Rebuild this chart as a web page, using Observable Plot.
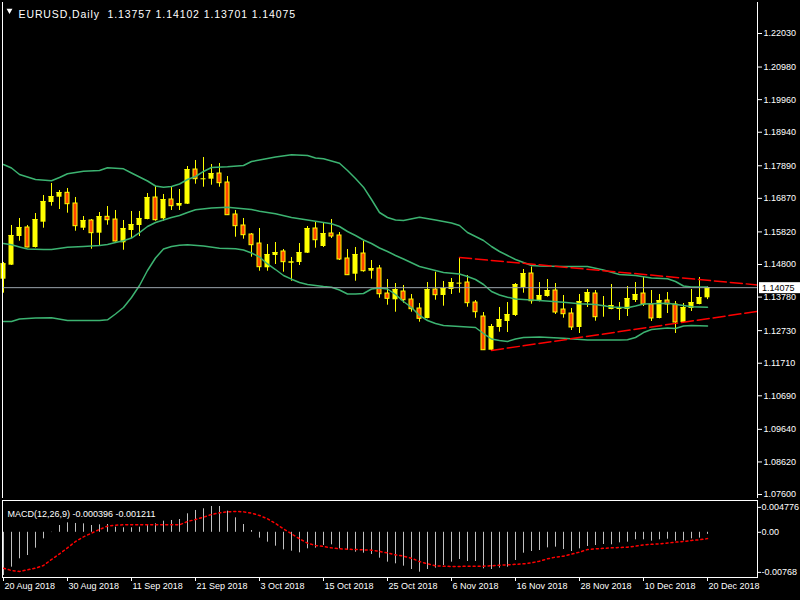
<!DOCTYPE html>
<html><head><meta charset="utf-8">
<script src="https://cdn.jsdelivr.net/npm/d3@7"></script>
<script src="https://cdn.jsdelivr.net/npm/@observablehq/plot@0.6"></script>
<style>
html,body{margin:0;padding:0;background:#000;}
#chart{position:relative;width:800px;height:600px;background:#000;overflow:hidden;}
#chart svg{position:absolute;left:0;display:block;max-width:none;}
</style></head><body><div id="chart"></div>
<script>
// ---- Daily EURUSD candles (bar index 0 = 20 Aug 2018) ----
const openP = [1.14340,1.14778,1.15676,1.15958,1.15332,1.16124,1.16740,1.16906,1.17044,1.16709,
1.15936,1.16177,1.15780,1.16293,1.16208,1.15479,1.15864,1.16021,1.16208,1.16897,
1.16230,1.16834,1.16625,1.16687,1.17773,1.17480,1.17470,1.17648,1.17366,1.16365,
1.16021,1.15739,1.15457,1.14697,1.15082,1.15207,1.14847,1.14862,1.15154,1.15927,
1.15363,1.15770,1.15708,1.14988,1.14496,1.15144,1.14590,1.14675,1.13892,1.13695,
1.13955,1.13704,1.13423,1.13110,1.14017,1.13830,1.14017,1.14212,1.14236,1.13610,
1.13172,1.12117,1.12828,1.13016,1.13204,1.14080,1.14518,1.13642,1.13798,1.13986,
1.13391,1.13266,1.12828,1.13610,1.13892,1.13515,1.13391,1.13391,1.13391,1.13673,
1.13892,1.13548,1.13110,1.13673,1.13548,1.12984,1.13423,1.13548,1.13757];
const highP = [1.14862,1.16021,1.16240,1.16021,1.16396,1.16960,1.17335,1.17116,1.17179,1.16897,
1.16302,1.16208,1.16427,1.16615,1.16490,1.16177,1.16459,1.16459,1.17022,1.17241,
1.16991,1.17241,1.17147,1.17867,1.18055,1.18149,1.17930,1.17961,1.17554,1.16490,
1.16240,1.15770,1.15927,1.15426,1.15488,1.15269,1.15019,1.15457,1.15989,1.16114,
1.16083,1.16208,1.15801,1.15269,1.15332,1.15520,1.14925,1.14769,1.14330,1.14205,
1.14143,1.13861,1.13579,1.14236,1.14559,1.14268,1.14362,1.15019,1.14456,1.13673,
1.13297,1.12922,1.13454,1.13610,1.14205,1.14643,1.14722,1.14236,1.14330,1.14205,
1.13830,1.13423,1.13861,1.14017,1.13986,1.13798,1.14174,1.13610,1.14111,1.14236,
1.14424,1.13986,1.13861,1.13923,1.13642,1.13579,1.14017,1.14393,1.14102];
const lowP = [1.13902,1.14770,1.15529,1.15325,1.15316,1.15936,1.16625,1.16521,1.16406,1.15842,
1.15864,1.15279,1.15395,1.16030,1.15504,1.15247,1.15614,1.15676,1.16199,1.16155,
1.16155,1.16490,1.16490,1.16678,1.17313,1.17219,1.17282,1.17219,1.16333,1.15654,
1.15592,1.15028,1.14590,1.14590,1.14800,1.14559,1.14277,1.14769,1.15144,1.15310,
1.15332,1.15614,1.14925,1.14455,1.14277,1.14559,1.14340,1.13745,1.13526,1.13307,
1.13589,1.13307,1.12994,1.13100,1.13682,1.13495,1.13861,1.13902,1.13463,1.13119,
1.12110,1.12110,1.12681,1.12671,1.13172,1.13902,1.13557,1.13632,1.13777,1.13235,
1.13119,1.12734,1.12640,1.13454,1.13025,1.13150,1.13382,1.13047,1.13172,1.13610,
1.13485,1.13016,1.13100,1.13266,1.12640,1.12975,1.13329,1.13539,1.13701];
const closeP = [1.14822,1.15708,1.15958,1.15332,1.16208,1.16772,1.16928,1.17053,1.16687,1.15999,
1.16177,1.15780,1.16302,1.16186,1.15520,1.15927,1.16052,1.16240,1.16897,1.16186,
1.16834,1.16625,1.16709,1.17773,1.17470,1.17482,1.17648,1.17345,1.16343,1.15999,
1.15717,1.15404,1.14715,1.15113,1.15175,1.14872,1.14878,1.15175,1.15927,1.15560,
1.15770,1.15676,1.14956,1.14465,1.15113,1.14590,1.14675,1.13870,1.13726,1.14017,
1.13682,1.13401,1.13100,1.14017,1.13839,1.14049,1.14236,1.14215,1.13589,1.13307,
1.12117,1.12859,1.13078,1.13235,1.14174,1.14518,1.13651,1.13830,1.13986,1.13297,
1.13244,1.12828,1.13642,1.13923,1.13150,1.13517,1.13517,1.13454,1.13736,1.13861,
1.13548,1.13110,1.13673,1.13548,1.12984,1.13454,1.13610,1.13767,1.14075];

// ---- Bollinger Bands (20,2) read at bars: [bar index, price] ----
const upperBand = [[0,1.17930],[1,1.17820],[2,1.17617],[4,1.17460],[6,1.17420],[7,1.17523],[8,1.17639],[10,1.17720],[12,1.17742],[13,1.17827],[15,1.17795],[16,1.17664],[17,1.17539],[18,1.17413],[19,1.17257],[20,1.17219],[21,1.17241],[22,1.17319],[23,1.17460],[24,1.17554],[25,1.17711],[26,1.17836],[28,1.17858],[30,1.17899],[31,1.18024],[32,1.18071],[34,1.18165],[36,1.18233],[38,1.18211],[39,1.18133],[40,1.18108],[42,1.17970],[43,1.17742],[44,1.17492],[45,1.17219],[46,1.16834],[47,1.16427],[48,1.16271],[49,1.16193],[50,1.16177],[52,1.16280],[54,1.16193],[56,1.16099],[57,1.16021],[58,1.15802],[59,1.15676],[60,1.15551],[61,1.15363],[62,1.15207],[63,1.15082],[64,1.14956],[65,1.14862],[66,1.14768],[67,1.14753],[70,1.14737],[73,1.14737],[75,1.14628],[77,1.14487],[79,1.14456],[81,1.14377],[83,1.14352],[84,1.14268],[85,1.14127],[86,1.14096],[88,1.14096]];
const middleBand = [[0,1.15457],[1,1.15416],[2,1.15348],[3,1.15285],[5,1.15269],[6,1.15269],[8,1.15341],[10,1.15363],[12,1.15394],[13,1.15426],[14,1.15488],[15,1.15542],[16,1.15629],[17,1.15800],[18,1.15989],[19,1.16114],[20,1.16193],[21,1.16271],[22,1.16334],[23,1.16427],[24,1.16512],[26,1.16565],[28,1.16593],[30,1.16543],[31,1.16521],[32,1.16468],[34,1.16387],[36,1.16271],[38,1.16193],[40,1.16114],[41,1.16074],[42,1.15989],[43,1.15833],[44,1.15708],[45,1.15567],[46,1.15457],[47,1.15316],[48,1.15207],[49,1.15082],[50,1.14972],[52,1.14737],[54,1.14612],[55,1.14549],[57,1.14503],[58,1.14424],[59,1.14330],[60,1.14174],[61,1.13955],[62,1.13845],[63,1.13776],[64,1.13720],[65,1.13704],[67,1.13673],[70,1.13620],[72,1.13570],[74,1.13548],[76,1.13470],[78,1.13445],[79,1.13501],[80,1.13564],[83,1.13589],[85,1.13517],[86,1.13476],[88,1.13463]];
const lowerBand = [[0,1.13016],[1,1.13016],[2,1.13094],[4,1.13125],[6,1.13131],[8,1.13047],[12,1.13047],[13,1.13069],[14,1.13251],[15,1.13454],[16,1.13767],[17,1.14143],[18,1.14612],[19,1.15003],[20,1.15285],[21,1.15363],[22,1.15404],[23,1.15416],[25,1.15379],[27,1.15310],[29,1.15291],[30,1.15254],[31,1.15160],[32,1.15035],[33,1.14816],[34,1.14643],[35,1.14456],[36,1.14340],[37,1.14236],[38,1.14174],[40,1.14111],[41,1.14089],[42,1.14002],[43,1.13877],[44,1.13877],[45,1.13892],[46,1.14033],[47,1.14065],[48,1.14033],[49,1.13861],[50,1.13642],[51,1.13454],[52,1.13204],[53,1.13047],[54,1.12953],[55,1.12891],[57,1.12859],[59,1.12828],[60,1.12640],[61,1.12468],[62,1.12421],[63,1.12390],[64,1.12468],[65,1.12515],[67,1.12531],[70,1.12490],[73,1.12437],[77,1.12437],[78,1.12443],[79,1.12515],[80,1.12671],[81,1.12765],[83,1.12812],[84,1.12797],[85,1.12875],[86,1.12891],[88,1.12875]];

// ---- Trendlines (two anchors each, drawn as rays to the right) ----
const upperTrend = [[57,1.15019],[88,1.14305]];
const lowerTrend = [[61,1.12110],[88,1.13103]];

// ---- MACD(12,26,9) ----
const macdMain = [-0.00828,-0.00668,-0.00508,-0.00445,-0.00304,-0.00125,-0.00005,0.00130,0.00181,0.00169,
0.00162,0.00130,0.00143,0.00149,0.00098,0.00086,0.00086,0.00098,0.00149,0.00162,
0.00213,0.00226,0.00245,0.00354,0.00418,0.00450,0.00494,0.00494,0.00405,0.00277,
0.00149,0.00034,-0.00112,-0.00189,-0.00266,-0.00336,-0.00362,-0.00393,-0.00317,-0.00304,
-0.00253,-0.00240,-0.00317,-0.00349,-0.00381,-0.00400,-0.00425,-0.00496,-0.00572,-0.00604,
-0.00649,-0.00713,-0.00764,-0.00713,-0.00687,-0.00636,-0.00572,-0.00521,-0.00560,-0.00560,
-0.00700,-0.00713,-0.00687,-0.00668,-0.00540,-0.00400,-0.00368,-0.00349,-0.00298,-0.00285,
-0.00330,-0.00368,-0.00317,-0.00272,-0.00253,-0.00234,-0.00240,-0.00202,-0.00189,-0.00144,
-0.00144,-0.00170,-0.00144,-0.00132,-0.00170,-0.00164,-0.00125,-0.00112,-0.000396];
const macdSignal = [[0,-0.00687],[1,-0.00732],[2,-0.00751],[3,-0.00719],[4,-0.00687],[5,-0.00636],[6,-0.00521],[7,-0.00413],[8,-0.00298],[9,-0.00176],[10,-0.00087],[11,-0.00017],[12,0.00054],[13,0.00118],[14,0.00137],[15,0.00143],[22,0.00143],[23,0.00207],[24,0.00245],[25,0.00290],[26,0.00341],[27,0.00373],[28,0.00392],[29,0.00399],[30,0.00392],[31,0.00367],[32,0.00322],[33,0.00258],[34,0.00169],[35,0.00066],[36,-0.00029],[37,-0.00125],[38,-0.00208],[39,-0.00253],[40,-0.00272],[41,-0.00298],[42,-0.00317],[44,-0.00330],[46,-0.00342],[47,-0.00368],[48,-0.00393],[49,-0.00432],[50,-0.00457],[51,-0.00496],[52,-0.00560],[53,-0.00604],[54,-0.00643],[56,-0.00655],[60,-0.00649],[63,-0.00623],[65,-0.00604],[66,-0.00585],[67,-0.00553],[68,-0.00508],[69,-0.00476],[70,-0.00457],[71,-0.00419],[72,-0.00381],[73,-0.00330],[74,-0.00317],[76,-0.00298],[78,-0.00285],[79,-0.00266],[80,-0.00240],[82,-0.00221],[84,-0.00189],[85,-0.00176],[86,-0.00157],[87,-0.00144],[88,-0.001211]];

// ---- Axis ticks and labels ----
const priceTicks = [1.22030,1.20980,1.19960,1.18940,1.17890,1.16870,1.15820,1.14800,1.13780,1.12730,1.11710,1.10690,1.09640,1.08620,1.07600];
const macdTicks = [0.004776, 0, -0.00768];
const macdTickLabels = ["0.004776","0.00","-0.00768"];
const dateTickIdx = [0,8,16,24,32,40,48,56,64,72,80,88];
const dateLabels = ["20 Aug 2018","30 Aug 2018","11 Sep 2018","21 Sep 2018","3 Oct 2018","15 Oct 2018","25 Oct 2018","6 Nov 2018","16 Nov 2018","28 Nov 2018","10 Dec 2018","20 Dec 2018"];
const titleText = "EURUSD,Daily  1.13757 1.14102 1.13701 1.14075";
const macdTitle = "MACD(12,26,9) -0.000396 -0.001211";
const lastClose = closeP[closeP.length - 1];

// ---- build ----
const FONT = "'Liberation Sans', Arial, sans-serif";
const YELLOW = "#ffff00", BEAR = "#ff4500", BAND = "#3cb371", GRID = "#9ba4ad";
const xDomain = [-0.125, 94.25];
const bars = openP.map((o, i) => ({i, o, h: highP[i], l: lowP[i], c: closeP[i]}));
const up = bars.filter(d => d.c >= d.o);
const dn = bars.filter(d => d.c < d.o);
const ray = (t) => {
  const [[i1, p1], [i2, p2]] = t;
  const s = (p2 - p1) / (i2 - i1);
  return [[i1, p1], [xDomain[1], p1 + s * (xDomain[1] - i1)]];
};
const style = {background: "#000", color: "#fff", fontFamily: FONT, fontSize: "9px", overflow: "visible"};

const main = Plot.plot({
  width: 800, height: 500,
  marginTop: 2, marginBottom: 2, marginLeft: 2, marginRight: 43,
  style,
  x: {domain: xDomain, axis: null},
  y: {domain: [1.07476, 1.23000], axis: "right", ticks: priceTicks, tickFormat: d3.format(".5f"),
      tickSize: 4, tickPadding: 2, label: null},
  marks: [
    Plot.ruleX(bars, {x: "i", y1: "l", y2: "h", stroke: YELLOW}),
    Plot.rect(up, {x1: d => d.i - 0.3125, x2: d => d.i + 0.3125, y1: "o", y2: "c", fill: YELLOW}),
    Plot.ruleY(up, {y: "c", x1: d => d.i - 0.3125, x2: d => d.i + 0.3125, stroke: YELLOW}),
    Plot.rect(dn, {x1: d => d.i - 0.25, x2: d => d.i + 0.25, y1: "o", y2: "c", fill: BEAR, stroke: YELLOW}),
    Plot.line(upperBand, {x: d => d[0], y: d => d[1], stroke: BAND}),
    Plot.line(middleBand, {x: d => d[0], y: d => d[1], stroke: BAND}),
    Plot.line(lowerBand, {x: d => d[0], y: d => d[1], stroke: BAND}),
    Plot.ruleY([lastClose], {stroke: GRID}),
    Plot.line(ray(upperTrend), {x: d => d[0], y: d => d[1], stroke: "#ff0000", strokeDasharray: "12,4"}),
    Plot.line(ray(lowerTrend), {x: d => d[0], y: d => d[1], stroke: "#ff0000", strokeDasharray: "12,4"}),
    Plot.ruleX([xDomain[0], xDomain[1]], {stroke: "#fff"}),
    Plot.ruleY([1.07476], {stroke: "#fff"}),
    Plot.dot([0], {frameAnchor: "top-left", dx: 7, dy: 8, symbol: "triangle", rotate: 180, r: 2.2, fill: "#fff", stroke: null}),
    Plot.text([titleText], {frameAnchor: "top-left", dx: 16, dy: 8, textAnchor: "start", fill: "#fff", fontSize: "10.5px"})
  ]
});
main.style.top = "0px";
// MT4-style wider title spacing
d3.select(main).selectAll("text").filter(function() { return this.textContent === titleText; })
  .attr("letter-spacing", "0.9");

// price tag for the last close
{
  const py = main.scale("y").apply(lastClose) + 0.5;
  const s = d3.select(main);
  s.append("rect").attr("x", 759).attr("y", py - 5.5).attr("width", 41).attr("height", 11).attr("fill", "#fff");
  s.append("text").attr("x", 762).attr("y", py).attr("dy", "0.32em").attr("fill", "#000")
    .attr("text-anchor", "start").attr("font-size", 9).attr("font-family", FONT)
    .text(d3.format(".5f")(lastClose));
}

const macd = Plot.plot({
  width: 800, height: 102,
  marginTop: 2, marginBottom: 23, marginLeft: 2, marginRight: 43,
  style,
  x: {domain: xDomain, axis: null},
  y: {domain: [-0.00866, 0.00609], axis: "right", ticks: macdTicks,
      tickFormat: d => macdTickLabels[macdTicks.indexOf(d)], tickSize: 3, tickPadding: 1, label: null},
  marks: [
    Plot.ruleX(macdMain, {x: (d, i) => i, y1: 0, y2: d => d, stroke: "#c0c0c0"}),
    Plot.line(macdSignal, {x: d => d[0], y: d => d[1], stroke: "#ff0000", strokeDasharray: "2,3"}),
    Plot.frame({stroke: "#fff"}),
    Plot.text([macdTitle], {frameAnchor: "top-left", dx: 5, dy: 10, textAnchor: "start", fill: "#fff"}),
    Plot.ruleX(dateTickIdx, {insetTop: 77, insetBottom: -4, stroke: "#fff"}),
    Plot.text(dateLabels, {x: (d, i) => dateTickIdx[i], frameAnchor: "bottom", dx: 1, dy: 11, textAnchor: "start", fill: "#fff"})
  ]
});
macd.style.top = "498px";

const root = document.getElementById("chart");
root.appendChild(main);
root.appendChild(macd);
</script>
</body></html>
